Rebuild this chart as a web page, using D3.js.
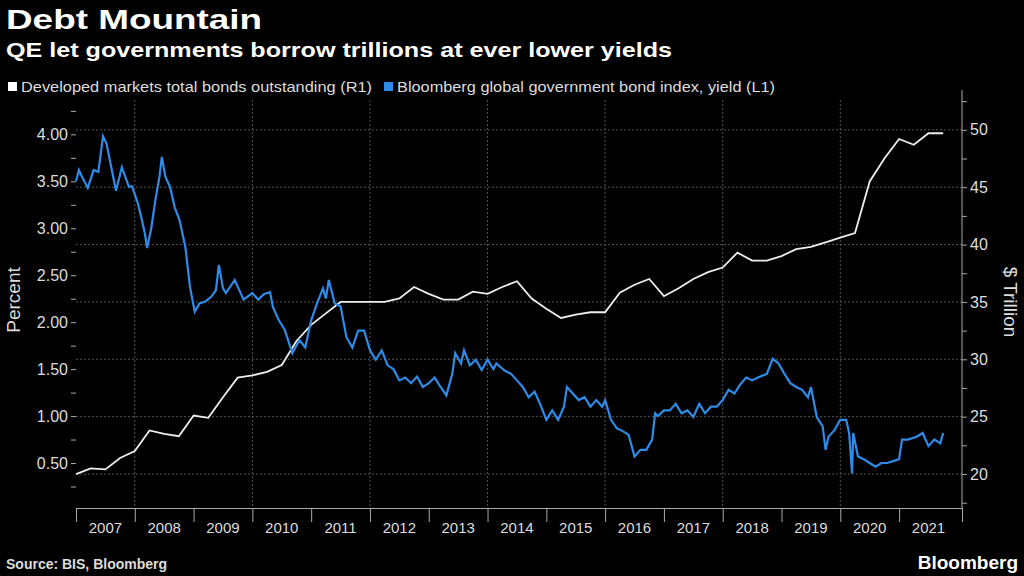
<!DOCTYPE html>
<html><head><meta charset="utf-8">
<script src="https://cdn.jsdelivr.net/npm/d3@7"></script>
<style>body{margin:0;background:#000;}svg{font-family:"Liberation Sans",Arial,sans-serif;}</style>
</head><body><svg id="c" width="1024" height="576"></svg>
<script>
// developed markets bonds outstanding, $ trillion, quarterly from 2007 Q1
const bondsStart = 2007;
const bonds = [20.0,20.5,20.4,21.4,22.0,23.8,23.5,23.3,25.1,24.9,26.7,28.4,28.6,28.9,29.5,31.6,33.0,34.0,35.0,35.0,
  35.0,35.0,35.3,36.3,35.7,35.2,35.2,35.9,35.7,36.3,36.8,35.3,34.4,33.6,33.9,34.1,34.1,35.8,36.5,37.0,
  35.5,36.2,37.0,37.6,38.0,39.3,38.6,38.6,39.0,39.6,39.8,40.2,40.6,41.0,45.5,47.5,49.2,48.7,49.7,49.7];
// bond index yield, percent: [year, value]
const yieldPts = [[2007.0,3.5],[2007.05,3.62],[2007.1,3.55],[2007.2,3.43],[2007.3,3.62],[2007.38,3.6],[2007.46,3.98],[2007.52,3.9],[2007.6,3.65],[2007.68,3.4],[2007.78,3.65],[2007.9,3.44],
  [2007.95,3.45],[2008.05,3.27],[2008.12,3.09],[2008.17,2.95],[2008.21,2.79],[2008.28,3.0],[2008.35,3.3],[2008.42,3.55],[2008.46,3.76],[2008.52,3.55],[2008.6,3.44],[2008.68,3.22],[2008.76,3.09],[2008.86,2.8],[2008.94,2.37],[2009.02,2.11],
  [2009.1,2.2],[2009.2,2.22],[2009.3,2.27],[2009.38,2.34],[2009.43,2.61],[2009.5,2.36],[2009.55,2.31],[2009.7,2.45],[2009.85,2.24],[2010.0,2.31],[2010.1,2.24],[2010.2,2.3],[2010.3,2.32],
  [2010.35,2.16],[2010.45,2.02],[2010.55,1.92],[2010.68,1.67],[2010.8,1.81],[2010.9,1.73],[2011.0,2.02],[2011.1,2.2],[2011.2,2.36],[2011.25,2.25],[2011.3,2.45],[2011.4,2.2],[2011.5,2.17],
  [2011.6,1.84],[2011.7,1.73],[2011.8,1.91],[2011.9,1.91],[2012.0,1.7],[2012.1,1.6],[2012.2,1.7],[2012.3,1.54],[2012.4,1.5],[2012.5,1.38],[2012.6,1.41],[2012.7,1.35],[2012.8,1.42],[2012.9,1.31],
  [2013.0,1.35],[2013.1,1.41],[2013.2,1.31],[2013.3,1.22],[2013.4,1.45],[2013.45,1.67],[2013.55,1.56],[2013.6,1.7],[2013.7,1.54],[2013.8,1.6],[2013.9,1.49],[2014.0,1.6],[2014.1,1.5],
  [2014.15,1.56],[2014.3,1.48],[2014.4,1.45],[2014.5,1.38],[2014.6,1.31],[2014.7,1.2],[2014.8,1.26],[2014.9,1.12],[2015.0,0.96],[2015.1,1.06],[2015.2,0.96],[2015.3,1.1],[2015.35,1.31],
  [2015.45,1.24],[2015.55,1.17],[2015.65,1.2],[2015.75,1.1],[2015.85,1.17],[2015.95,1.1],[2016.0,1.17],[2016.1,0.96],[2016.2,0.87],[2016.3,0.84],[2016.4,0.8],[2016.5,0.57],[2016.6,0.64],
  [2016.7,0.64],[2016.8,0.75],[2016.85,1.03],[2016.9,1.0],[2017.0,1.06],[2017.1,1.06],[2017.2,1.13],[2017.3,1.03],[2017.4,1.06],[2017.5,0.99],[2017.6,1.13],[2017.7,1.03],[2017.8,1.1],
  [2017.9,1.1],[2018.0,1.17],[2018.1,1.28],[2018.2,1.24],[2018.3,1.34],[2018.4,1.41],[2018.5,1.38],[2018.6,1.41],[2018.75,1.45],[2018.85,1.61],[2018.95,1.56],[2019.05,1.45],[2019.15,1.35],
  [2019.25,1.31],[2019.35,1.28],[2019.45,1.2],[2019.5,1.31],[2019.6,0.99],[2019.7,0.89],[2019.75,0.64],[2019.8,0.78],[2019.9,0.85],[2020.0,0.96],[2020.1,0.96],[2020.15,0.82],[2020.2,0.39],
  [2020.22,0.82],[2020.3,0.57],[2020.4,0.54],[2020.5,0.5],[2020.6,0.46],[2020.7,0.5],[2020.8,0.5],[2020.9,0.52],[2021.0,0.54],[2021.05,0.75],[2021.15,0.75],[2021.3,0.78],[2021.4,0.82],
  [2021.5,0.68],[2021.6,0.75],[2021.7,0.71],[2021.75,0.82]];
const years = d3.range(2007, 2022);
const leftTicks = [0.5,1.0,1.5,2.0,2.5,3.0,3.5,4.0];
const rightTicks = [20,25,30,35,40,45,50];

const svg = d3.select("#c");
const L = 76, R = 962, T = 100, B = 508;
const x = d3.scaleLinear().domain([2007, 2022.07]).range([L, R]);
const yL = d3.scaleLinear().domain([0.021, 4.366]).range([B, T]);
const yR = d3.scaleLinear().domain([17.04, 52.6]).range([B, T]);

svg.append("rect").attr("width",1024).attr("height",576).attr("fill","#000");

// grid
svg.append("g").selectAll("line").data(rightTicks).join("line")
  .attr("x1",L).attr("x2",R).attr("y1",d=>yR(d)).attr("y2",d=>yR(d))
  .attr("stroke","#555").attr("stroke-dasharray","2,2");
svg.append("g").selectAll("line").data(years.filter(d=>d%2==0)).join("line")
  .attr("x1",d=>x(d)).attr("x2",d=>x(d)).attr("y1",T).attr("y2",B)
  .attr("stroke","#555").attr("stroke-dasharray","2,2");

// axes
const ax = svg.append("g").attr("transform",`translate(0,${B})`)
  .call(d3.axisBottom(x).tickValues(years.concat([2022.07])).tickSize(14).tickFormat(""));
ax.selectAll("line,path").attr("stroke","#aaa");
svg.append("g").selectAll("text").data(years).join("text")
  .attr("x",d=>(x(d)+Math.min(x(d+1),R))/2).attr("y",533).attr("text-anchor","middle")
  .attr("fill","#ddd").attr("font-size",15).text(d=>d);

const al = svg.append("g").attr("transform",`translate(${L},0)`)
  .call(d3.axisLeft(yL).tickValues(d3.range(0.25,4.3,0.25)).tickSize(5).tickFormat(d=>leftTicks.some(t=>Math.abs(t-d)<1e-6)?d.toFixed(2):""));
al.select("path").remove();
al.selectAll("line").attr("stroke","#aaa");
al.selectAll("text").attr("fill","#ddd").attr("font-size",16).attr("font-family","Liberation Sans, Arial");

const ar = svg.append("g").attr("transform",`translate(${R},0)`)
  .call(d3.axisRight(yR).tickValues(d3.range(17.5,52.6,2.5)).tickSize(5).tickFormat(d=>rightTicks.includes(d)?d:""));
ar.select("path").attr("d",`M0,${T-10}V${B}`).attr("stroke","#aaa");
ar.selectAll("line").attr("stroke","#aaa");
ar.selectAll("text").attr("fill","#ddd").attr("font-size",16).attr("font-family","Liberation Sans, Arial");

// lines
svg.append("path").datum(bonds)
  .attr("d", d3.line().x((d,i)=>x(bondsStart+i*0.25)).y(d=>yR(d)))
  .attr("fill","none").attr("stroke","#eee").attr("stroke-width",1.8);
svg.append("path").datum(yieldPts)
  .attr("d", d3.line().x(d=>x(d[0])).y(d=>yL(d[1])))
  .attr("fill","none").attr("stroke","#2e8be8").attr("stroke-width",2.2);

// text
svg.append("text").attr("x",6).attr("y",29).attr("fill","#fff").attr("font-size",27).attr("font-weight","bold")
  .attr("textLength",256).attr("lengthAdjust","spacingAndGlyphs").text("Debt Mountain");
svg.append("text").attr("x",6).attr("y",57).attr("fill","#fff").attr("font-size",21).attr("font-weight","bold")
  .attr("textLength",666).attr("lengthAdjust","spacingAndGlyphs").text("QE let governments borrow trillions at ever lower yields");
const lg = svg.append("g").attr("font-size",15).attr("fill","#ddd");
lg.append("rect").attr("x",8).attr("y",82).attr("width",9).attr("height",9).attr("fill","#fff");
lg.append("text").attr("x",21).attr("y",92).attr("textLength",351).attr("lengthAdjust","spacingAndGlyphs").text("Developed markets total bonds outstanding (R1)");
lg.append("rect").attr("x",384).attr("y",82).attr("width",9).attr("height",9).attr("fill","#2e8be8");
lg.append("text").attr("x",397).attr("y",92).attr("textLength",378).attr("lengthAdjust","spacingAndGlyphs").text("Bloomberg global government bond index, yield (L1)");
svg.append("text").attr("transform","translate(20,300) rotate(-90)").attr("text-anchor","middle").attr("fill","#ddd").attr("font-size",19).text("Percent");
svg.append("text").attr("transform","translate(1004,302) rotate(90)").attr("text-anchor","middle").attr("fill","#ddd").attr("font-size",19).text("$ Trillion");
svg.append("text").attr("x",6).attr("y",569).attr("fill","#ddd").attr("font-size",14).attr("font-weight","bold").text("Source: BIS, Bloomberg");
svg.append("text").attr("x",1018).attr("y",569).attr("text-anchor","end").attr("fill","#fff").attr("font-size",19).attr("font-weight","bold").text("Bloomberg");
</script></body></html>
